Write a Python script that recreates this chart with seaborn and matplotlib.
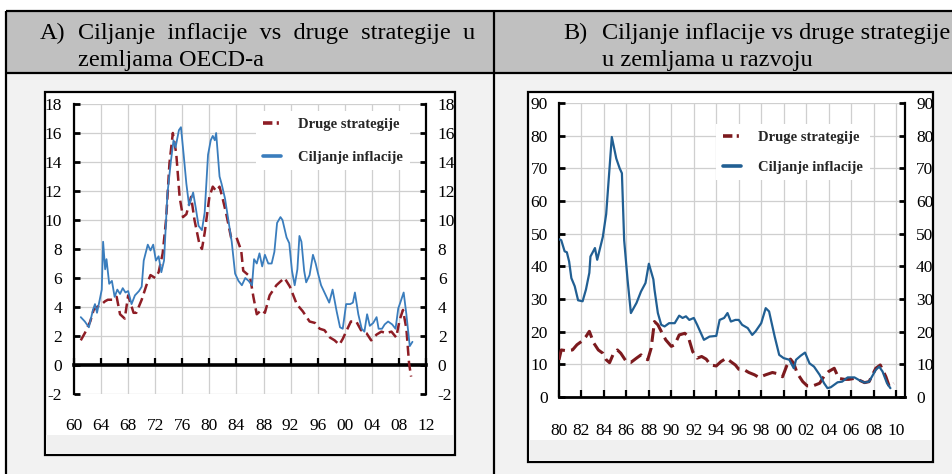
import numpy as np
import pandas as pd
import matplotlib.pyplot as plt
from matplotlib.patches import Rectangle
from matplotlib.lines import Line2D
import seaborn as sns

W, H = 953, 474

# Panel A: OECD - inflation targeting
a_it_years = [1961.0, 1961.6, 1962.2, 1962.8, 1963.1, 1963.4, 1963.8, 1964.1, 1964.3, 1964.6,
              1964.8, 1965.2, 1965.6, 1966.0, 1966.4, 1966.8, 1967.2, 1967.6, 1968.0, 1968.5,
              1969.0, 1969.6, 1970.0, 1970.3, 1970.9, 1971.3, 1971.7, 1972.1, 1972.5, 1972.9,
              1973.3, 1973.8, 1974.3, 1974.7, 1975.0, 1975.5, 1975.8, 1976.2, 1976.6, 1977.0,
              1977.6, 1978.0, 1978.4, 1978.9, 1979.3, 1979.8, 1980.2, 1980.5, 1980.8, 1981.0,
              1981.5, 1981.8, 1982.3, 1982.8, 1983.3, 1983.8, 1984.3, 1984.8, 1985.3, 1985.8,
              1986.3, 1986.6, 1987.0, 1987.4, 1987.8, 1988.2, 1988.7, 1989.2, 1989.6, 1990.0,
              1990.5, 1990.8, 1991.4, 1991.8, 1992.2, 1992.6, 1993.0, 1993.3, 1993.6, 1994.0,
              1994.3, 1994.8, 1995.3, 1995.7, 1996.0, 1996.5, 1997.0, 1997.7, 1998.2, 1998.8,
              1999.3, 1999.7, 2000.2, 2000.8, 2001.2, 2001.5, 2002.0, 2002.5, 2002.9, 2003.3,
              2003.7, 2004.2, 2004.7, 2005.0, 2005.5, 2005.9, 2006.4, 2007.0, 2007.5, 2007.9,
              2008.2, 2008.7, 2009.1, 2009.6, 2010.0]
a_it = [3.3, 3.0, 2.6, 3.8, 4.2, 3.6, 4.5, 5.2, 8.5, 6.6,
        7.3, 5.6, 5.8, 4.7, 5.2, 4.9, 5.3, 5.0, 5.1, 4.2,
        4.8, 5.1, 5.4, 7.2, 8.3, 7.9, 8.3, 7.2, 7.5, 6.4,
        7.2, 11.8, 14.0, 15.5, 15.0, 16.2, 16.4, 14.5, 12.5, 11.0,
        11.9, 10.8, 9.6, 9.3, 10.5, 14.5, 15.5, 15.8, 15.5, 16.0,
        13.0, 12.5, 11.5, 10.0, 8.5, 6.3, 5.8, 5.5, 6.0, 5.8,
        5.5, 7.3, 7.0, 7.7, 6.8, 7.6, 7.0, 7.0, 7.8, 9.8,
        10.2, 10.0, 8.8, 8.4, 6.5, 5.5, 6.6, 8.9, 8.5, 6.5,
        5.7, 6.2, 7.6, 7.0, 6.4, 5.5, 5.0, 4.3, 5.2, 3.7,
        2.6, 2.5, 4.2, 4.2, 4.3, 5.0, 3.5, 2.5, 2.3, 3.5,
        2.7, 2.9, 3.3, 2.5, 2.5, 2.8, 3.0, 2.8, 2.5, 3.9,
        4.3, 5.0, 3.5, 1.3, 1.6]

# Panel A: OECD - other strategies
a_ot_years = [1961.0, 1961.6, 1962.4, 1962.9, 1963.4, 1964.1, 1964.6, 1965.0, 1965.8, 1966.3,
              1966.8, 1967.5, 1968.0, 1968.8, 1969.2, 1970.0, 1970.7, 1971.3, 1972.0, 1972.5,
              1973.1, 1973.6, 1974.1, 1974.6, 1975.1, 1975.6, 1976.1, 1976.6, 1977.3, 1977.8,
              1978.5, 1978.9, 1979.3, 1980.0, 1980.5, 1981.0, 1981.5, 1982.0, 1982.5, 1983.2,
              1984.0, 1984.7, 1985.0, 1986.0, 1986.5, 1987.0, 1987.7, 1988.2, 1988.9, 1989.9,
              1990.6, 1991.1, 1991.9, 1992.9, 1993.8, 1994.8, 1995.6, 1996.3, 1997.0, 1997.8,
              1998.5, 1999.2, 1999.7, 2000.3, 2000.9, 2001.7, 2002.4, 2003.2, 2003.9, 2004.7,
              2005.4, 2006.1, 2006.9, 2007.6, 2008.1, 2008.6, 2009.1, 2009.5, 2009.8]
a_ot = [1.7, 2.2, 3.0, 3.8, 4.0, 4.2, 4.4, 4.5, 4.5, 4.7,
        3.5, 3.2, 4.8, 3.6, 3.6, 4.5, 5.5, 6.2, 6.0, 6.4,
        7.7, 10.0, 13.9, 16.0, 14.6, 11.6, 10.2, 10.4, 11.6, 10.0,
        8.4, 8.0, 9.1, 11.6, 12.3, 12.0, 12.3, 11.4, 10.4, 8.8,
        8.8, 7.9, 6.5, 6.1, 4.7, 3.5, 3.8, 3.6, 4.8, 5.5,
        5.8, 6.0, 5.4, 4.2, 3.7, 3.0, 2.9, 2.5, 2.4, 1.9,
        1.7, 1.4, 1.8, 2.4, 3.0, 3.0, 2.4, 2.2, 1.7, 2.1,
        2.3, 2.2, 2.3, 1.9, 3.1, 3.8, 2.5, 0.1, -0.8]

# Panel B: developing countries - inflation targeting
b_it_years = [1980.0, 1980.2, 1980.5, 1980.7, 1980.9, 1981.1, 1981.4, 1981.7, 1982.1, 1982.4,
              1982.7, 1982.8, 1983.2, 1983.4, 1983.9, 1984.2, 1984.7, 1985.1, 1985.4, 1985.6,
              1985.8, 1986.1, 1986.4, 1986.9, 1987.3, 1987.7, 1988.0, 1988.4, 1988.5, 1988.8,
              1989.1, 1989.4, 1989.8, 1990.3, 1990.7, 1991.0, 1991.3, 1991.6, 1992.0, 1992.3,
              1992.9, 1993.4, 1994.0, 1994.3, 1994.7, 1995.0, 1995.3, 1995.7, 1996.0, 1996.3,
              1996.8, 1997.2, 1997.5, 1998.0, 1998.4, 1998.7, 1999.2, 1999.6, 2000.0, 2000.5,
              2000.9, 2001.1, 2001.5, 2001.9, 2002.3, 2002.7, 2003.2, 2003.6, 2003.9, 2004.2,
              2004.8, 2005.2, 2005.7, 2006.3, 2006.7, 2007.2, 2007.6, 2008.2, 2008.5, 2008.8,
              2009.2, 2009.5]
b_it = [48.3, 48.0, 44.6, 44.3, 41.5, 36.4, 33.9, 29.6, 29.3, 32.9,
        38.0, 43.0, 45.6, 42.0, 49.0, 56.0, 79.6, 73.0, 70.0, 68.5,
        48.0, 36.0, 25.7, 28.8, 32.3, 34.9, 40.8, 36.0, 32.9, 25.7,
        22.1, 21.6, 22.6, 22.6, 24.9, 24.2, 24.7, 23.6, 24.2, 22.1,
        17.5, 18.5, 18.7, 23.6, 24.2, 25.7, 23.1, 23.6, 23.6, 22.1,
        21.1, 19.0, 20.1, 22.6, 27.2, 26.2, 18.5, 12.9, 11.9, 11.4,
        8.8, 11.4, 12.6, 13.6, 10.3, 9.3, 6.8, 4.2, 2.7, 3.0,
        4.5, 4.7, 6.0, 6.0, 5.2, 4.4, 4.7, 8.3, 9.3, 7.8,
        4.2, 2.7]

# Panel B: developing countries - other strategies
b_ot_years = [1980.0, 1980.2, 1980.6, 1981.2, 1981.6, 1982.0, 1982.4, 1982.7, 1983.1, 1983.5,
              1983.9, 1984.2, 1984.5, 1984.8, 1985.2, 1985.5, 1986.0, 1986.4, 1986.9, 1987.3,
              1987.6, 1987.9, 1988.2, 1988.5, 1988.8, 1989.1, 1989.5, 1990.0, 1990.3, 1990.7,
              1991.2, 1991.5, 1991.9, 1992.3, 1992.7, 1993.1, 1993.5, 1994.0, 1994.4, 1994.9,
              1995.3, 1995.7, 1996.0, 1996.5, 1996.9, 1997.4, 1997.8, 1998.4, 1999.0, 1999.5,
              1999.9, 2000.3, 2000.6, 2000.9, 2001.2, 2001.7, 2002.1, 2002.6, 2003.2, 2003.6,
              2004.0, 2004.5, 2004.9, 2005.4, 2005.8, 2006.3, 2006.7, 2007.2, 2007.6, 2008.2,
              2008.6, 2009.1, 2009.4, 2009.8]
b_ot = [11.4, 14.4, 14.2, 14.4, 16.0, 17.0, 18.5, 20.1, 16.5, 14.4,
        13.4, 11.4, 10.5, 12.9, 14.4, 13.4, 10.8, 10.6, 11.9, 12.9,
        11.9, 11.4, 14.9, 23.1, 22.1, 20.1, 17.5, 15.5, 16.0, 19.0,
        19.5, 18.5, 13.9, 11.9, 12.4, 11.6, 9.8, 9.5, 10.8, 11.9,
        10.8, 9.8, 8.5, 8.3, 7.5, 6.8, 6.0, 6.8, 7.5, 7.1,
        6.2, 9.8, 11.6, 10.3, 7.3, 4.7, 3.4, 3.4, 4.2, 6.4,
        7.8, 8.8, 5.7, 5.4, 5.4, 5.7, 5.2, 4.4, 4.7, 8.8,
        9.8, 6.2, 3.2, 4.2]

labels = ["Druge strategije", "Ciljanje inflacije"]
a_xticks = list(range(1960, 2013, 4))
a_yticks = list(range(-2, 19, 2))
b_xticks = list(range(1980, 2011, 2))
b_yticks = list(range(0, 91, 10))

sns.set_theme(style="white")
plt.rcParams["font.family"] = ["Liberation Serif", "DejaVu Serif"]

fig = plt.figure(figsize=(W / 100, H / 100), dpi=100)
fig.patch.set_facecolor("white")


def rect(x0, y0, x1, y1):
    return [x0 / W, 1 - y1 / H, (x1 - x0) / W, (y1 - y0) / H]


# table background drawn in pixel coordinates
bg = fig.add_axes([0, 0, 1, 1])
bg.set_xlim(0, W)
bg.set_ylim(H, 0)
bg.axis("off")
bg.add_patch(Rectangle((6, 11), W - 6, 62, fc="#c0c0c0", ec="none"))
bg.add_patch(Rectangle((6, 73), W - 6, H - 73, fc="#f2f2f2", ec="none"))
for (x0, y0, x1, y1) in [(6, 11, W, 11), (6, 73, W, 73), (6, 11, 6, H), (494, 11, 494, H)]:
    bg.plot([x0, x1], [y0, y1], color="black", lw=1.6, solid_capstyle="butt")

# chart image frames
bg.add_patch(Rectangle((45, 92), 410, 363, fc="white", ec="black", lw=1.6))
bg.add_patch(Rectangle((46.5, 435), 407, 18.5, fc="#f0f0f0", ec="none"))
bg.add_patch(Rectangle((528, 92), 405, 370, fc="white", ec="black", lw=1.6))
bg.add_patch(Rectangle((529.5, 440), 402, 20.5, fc="#f0f0f0", ec="none"))

# header cells (first line of A is justified in the original, hence wider spacing)
hdr = dict(fontsize=17.5, va="center", ha="left", color="black")
bg.text(40, 33, "A)", **hdr)
bg.text(78, 33, "Ciljanje  inflacije  vs  druge  strategije  u", **hdr)
bg.text(78, 60, "zemljama OECD-a", **hdr)
bg.text(563, 33, "B)", **hdr)
bg.text(602, 33, "Ciljanje inflacije vs druge strategije", **hdr)
bg.text(602, 60, "u zemljama u razvoju", **hdr)


def style_axes(ax, xticks, yticks, xlim, ylim, xpad, ypad, zero_lw):
    ax.set_xlim(*xlim)
    ax.set_ylim(*ylim)
    ax.set_xticks(xticks)
    ax.set_yticks(yticks)
    ax.set_xticklabels([f"{t % 100:02d}" for t in xticks])
    ax.set_yticklabels([str(t) for t in yticks])
    ax.grid(True, color="#cfcfcf", lw=0.9)
    ax.set_axisbelow(True)
    ax.set_facecolor("white")
    for s in ["left", "right"]:
        ax.spines[s].set_visible(True)
        ax.spines[s].set_color("black")
        ax.spines[s].set_linewidth(1.6)
    ax.spines["top"].set_visible(False)
    ax.spines["bottom"].set_position(("data", 0))
    ax.spines["bottom"].set_color("black")
    ax.spines["bottom"].set_linewidth(zero_lw)
    ax.tick_params(axis="y", which="major", direction="in", left=True, right=True,
                   labelleft=True, labelright=True, length=4, width=2,
                   pad=ypad, labelsize=12.5, colors="black")
    ax.tick_params(axis="x", which="major", direction="in", bottom=True,
                   length=5, width=1.6, pad=xpad, labelsize=12.5, colors="black")
    ax.set_xlabel("")
    ax.set_ylabel("")


def add_legend(ax, x, y, red, blue, spacing):
    handles = [Line2D([], [], color=red, lw=2.6, linestyle=(0, (2.6, 1.2, 0.6, 1.2))),
               Line2D([], [], color=blue, lw=2.6)]
    leg = ax.legend(handles, labels, loc="upper left", bbox_to_anchor=(x / W, 1 - y / H),
                    bbox_transform=fig.transFigure, frameon=True, fancybox=False,
                    facecolor="white", edgecolor="none", framealpha=1,
                    prop=dict(family="Liberation Serif", weight="bold", size=10.5),
                    handlelength=1.25, handletextpad=1.2, labelspacing=spacing,
                    borderpad=0.45, borderaxespad=0)
    leg.set_zorder(5)


# Panel A
red_a, blue_a = "#8e1d25", "#3a7dbd"
axa = fig.add_axes(rect(74, 104, 426, 394))
sns.lineplot(x=a_ot_years, y=a_ot, ax=axa, color=red_a, lw=1.8,
             linestyle=(0, (4, 2)), zorder=3)
sns.lineplot(x=a_it_years, y=a_it, ax=axa, color=blue_a, lw=1.3, zorder=4)
style_axes(axa, a_xticks, a_yticks, (1960, 2012), (-2, 18), xpad=38, ypad=8.5, zero_lw=2.6)
add_legend(axa, 256, 111, red_a, blue_a, 1.35)

# Panel B
red_b, blue_b = "#7c1a1e", "#215f93"
axb = fig.add_axes(rect(559, 103, 905, 397))
sns.lineplot(x=b_ot_years, y=b_ot, ax=axb, color=red_b, lw=2.2,
             linestyle=(0, (4.5, 2)), zorder=3)
sns.lineplot(x=b_it_years, y=b_it, ax=axb, color=blue_b, lw=1.6, zorder=4)
style_axes(axb, b_xticks, b_yticks, (1980, 2010.8), (0, 90), xpad=19, ypad=8, zero_lw=2.0)
add_legend(axb, 716, 124, red_b, blue_b, 1.15)

fig.savefig("out.png", dpi=100)
